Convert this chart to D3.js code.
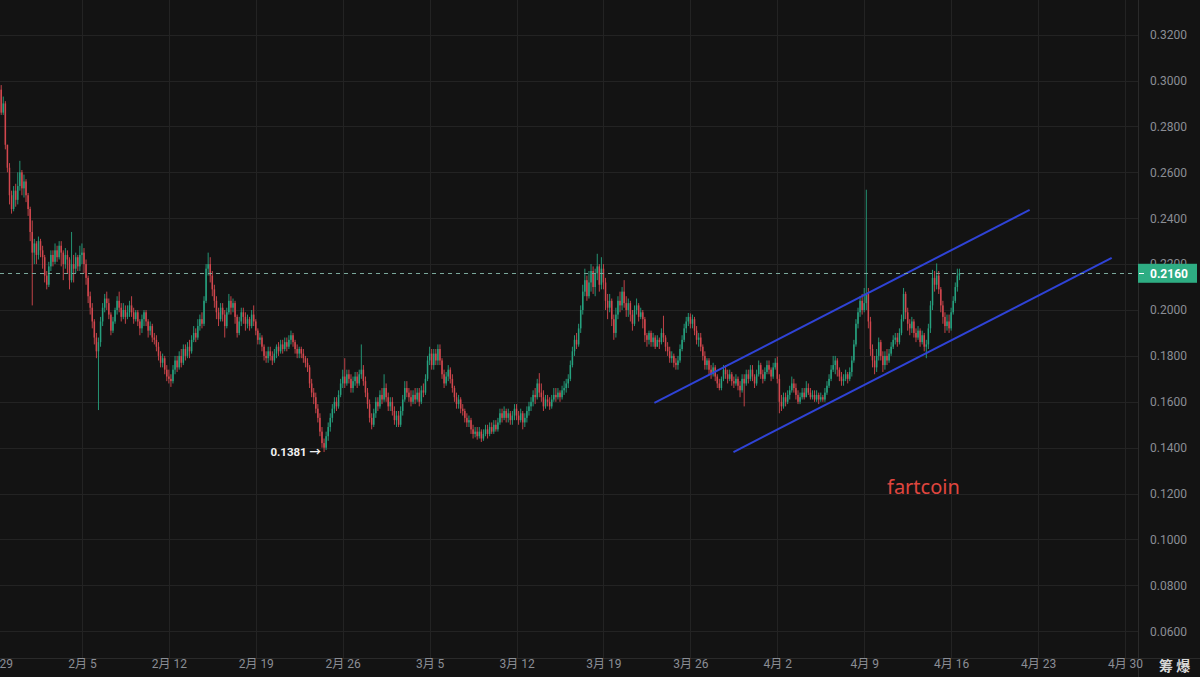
<!DOCTYPE html>
<html>
<head>
<meta charset="utf-8">
<script src="https://cdn.jsdelivr.net/npm/d3@7"></script>
<style>
  html, body { margin: 0; padding: 0; background: #131313; }
  svg { display: block; }
</style>
</head>
<body>
<svg id="chart" width="1200" height="677"></svg>
<script>
// 4h candles starting 2025-01-29 08:00, prices in units of 0.0001
const firstOpen = 3005;
const closes = [
  2960,2860,2900,2720,
  2620,2500,2440,2520,2480,2540,
  2600,2530,2560,2500,2440,2340,
  2250,2290,2240,2300,2260,2230,
  2150,2110,2190,2240,2210,2260,
  2230,2280,2250,2200,2240,2220,
  2130,2200,2180,2230,2190,2240,
  2250,2200,2140,2060,2010,1950,
  1880,1820,1860,1950,2010,2050,
  2030,1980,1910,1950,2000,2040,
  2010,1970,2000,1970,1990,2020,
  1990,1960,1990,1950,1920,1960,
  1990,1950,1910,1930,1880,1870,
  1840,1800,1770,1790,1740,1710,
  1700,1690,1740,1780,1750,1800,
  1770,1830,1800,1840,1820,1870,
  1900,1880,1930,1960,1940,2040,
  2180,2200,2150,2090,2040,1990,
  1960,2010,1980,1930,1990,2040,
  2010,2030,1970,1900,1950,1990,
  1970,1940,1960,1930,1980,1950,
  1910,1870,1880,1840,1800,1790,
  1820,1800,1780,1810,1840,1820,
  1850,1830,1860,1840,1870,1890,
  1860,1830,1810,1830,1810,1790,
  1770,1750,1680,1640,1620,1570,
  1530,1470,1420,1400,1450,1490,
  1530,1570,1600,1580,1630,1680,
  1710,1680,1720,1700,1660,1690,
  1710,1680,1720,1740,1690,1640,
  1590,1530,1500,1550,1600,1580,
  1630,1610,1660,1620,1580,1600,
  1560,1520,1540,1500,1560,1610,
  1660,1640,1620,1600,1630,1610,
  1640,1600,1650,1640,1700,1780,
  1810,1760,1810,1780,1830,1780,
  1720,1680,1710,1740,1700,1660,
  1620,1590,1610,1570,1560,1530,
  1510,1520,1480,1460,1470,1450,
  1470,1440,1460,1480,1460,1490,
  1470,1500,1480,1510,1550,1530,
  1560,1530,1550,1520,1540,1570,
  1540,1520,1550,1510,1530,1560,
  1580,1600,1630,1620,1680,1640,
  1620,1580,1610,1600,1580,1610,
  1630,1620,1640,1620,1650,1660,
  1680,1700,1760,1820,1870,1850,
  1920,2000,2080,2130,2060,2120,
  2170,2100,2160,2190,2110,2180,
  2120,2040,2010,2040,1960,1900,
  1980,2040,2020,2080,2030,2000,
  2030,1980,1940,2000,2020,1970,
  1990,1960,1890,1870,1900,1860,
  1880,1840,1870,1860,1900,1880,
  1840,1820,1790,1800,1770,1760,
  1780,1830,1870,1920,1950,1970,
  1940,1960,1910,1870,1880,1840,
  1800,1760,1780,1740,1720,1750,
  1710,1680,1660,1700,1740,1720,
  1700,1720,1690,1680,1700,1670,
  1650,1700,1680,1720,1700,1740,
  1710,1680,1720,1760,1720,1700,
  1730,1760,1740,1710,1750,1770,
  1700,1600,1580,1620,1600,1630,
  1650,1680,1660,1630,1600,1620,
  1640,1620,1660,1640,1620,1630,
  1610,1630,1610,1620,1610,1640,
  1670,1700,1740,1760,1780,1740,
  1710,1690,1700,1720,1700,1730,
  1780,1850,1940,1990,2040,2000,
  2030,2070,1950,1830,1780,1750,
  1800,1860,1800,1760,1800,1780,
  1810,1840,1870,1880,1860,1900,
  1960,2070,1990,1940,1920,1950,
  1900,1880,1910,1860,1890,1840,
  1850,1920,2020,2140,2110,2150,
  2090,2020,1970,1930,1950,1920,
  1990,2040,2100,2150,2160
];
const highs = [
  3020,2980,2930,2910,
  2720,2640,2520,2540,2550,2600,
  2650,2610,2590,2570,2510,2450,
  2390,2310,2300,2320,2310,2280,
  2240,2170,2210,2260,2260,2290,
  2280,2300,2300,2260,2270,2260,
  2230,2340,2240,2250,2240,2280,
  2290,2270,2220,2150,2080,2030,
  1960,1900,1880,1970,2030,2070,
  2080,2050,1990,1970,2010,2060,
  2080,2030,2030,2020,2020,2040,
  2060,2010,2000,2000,1960,1980,
  2000,2000,1960,1950,1940,1900,
  1890,1860,1820,1810,1800,1760,
  1740,1720,1760,1800,1800,1820,
  1830,1850,1850,1860,1870,1890,
  1930,1920,1960,1980,1990,2060,
  2200,2250,2230,2170,2110,2060,
  2010,2030,2030,2000,2010,2070,
  2060,2050,2040,1980,1970,2010,
  2010,1990,1980,1970,2000,2020,
  1960,1920,1900,1890,1850,1820,
  1840,1840,1820,1830,1850,1860,
  1870,1870,1880,1880,1890,1910,
  1900,1870,1850,1840,1840,1830,
  1800,1790,1760,1700,1660,1640,
  1590,1550,1490,1440,1470,1510,
  1550,1590,1620,1620,1650,1700,
  1740,1790,1740,1740,1720,1710,
  1730,1730,1740,1850,1760,1710,
  1660,1610,1550,1570,1620,1620,
  1650,1660,1720,1680,1640,1620,
  1620,1580,1560,1560,1580,1630,
  1690,1690,1660,1650,1650,1660,
  1660,1660,1670,1680,1720,1800,
  1840,1830,1830,1830,1850,1850,
  1790,1740,1730,1760,1750,1720,
  1670,1640,1630,1620,1590,1570,
  1550,1540,1530,1500,1490,1490,
  1490,1480,1480,1500,1500,1510,
  1510,1520,1520,1530,1570,1570,
  1580,1570,1570,1560,1560,1590,
  1590,1560,1570,1560,1550,1580,
  1600,1620,1650,1660,1700,1725,
  1680,1650,1630,1630,1620,1630,
  1660,1660,1660,1650,1670,1690,
  1700,1720,1780,1840,1890,1900,
  1940,2020,2110,2180,2150,2170,
  2200,2190,2180,2245,2200,2230,
  2200,2140,2070,2070,2050,1980,
  2010,2060,2080,2100,2130,2060,
  2050,2040,2000,2020,2050,2030,
  2010,2000,1970,1900,1910,1910,
  1900,1890,1890,1880,1920,1975,
  1890,1860,1840,1820,1810,1790,
  1800,1850,1890,1940,1970,1987,
  1985,1980,1970,1930,1900,1900,
  1850,1820,1790,1790,1760,1770,
  1760,1720,1700,1710,1760,1760,
  1740,1740,1730,1710,1720,1710,
  1690,1720,1720,1740,1740,1760,
  1760,1720,1740,1780,1770,1740,
  1750,1780,1780,1750,1770,1790,
  1797,1720,1630,1640,1640,1650,
  1670,1710,1700,1680,1650,1640,
  1660,1660,1690,1680,1660,1650,
  1650,1650,1640,1640,1630,1660,
  1690,1720,1760,1800,1800,1790,
  1750,1730,1720,1740,1730,1750,
  1800,1870,1960,2010,2060,2070,
  2096,2524,2096,1970,1850,1800,
  1830,1880,1870,1820,1820,1830,
  1830,1860,1890,1900,1900,1920,
  1980,2096,2080,2010,1960,1970,
  1960,1920,1930,1920,1910,1900,
  1870,1940,2040,2175,2170,2203,
  2170,2100,2040,1990,1980,1980,
  2010,2060,2120,2180,2180
];
const lows = [
  2940,2850,2850,2700,
  2600,2460,2420,2430,2450,2460,
  2520,2500,2490,2470,2410,2300,
  2020,2200,2200,2220,2230,2180,
  2120,2090,2100,2170,2190,2200,
  2210,2220,2190,2130,2180,2160,
  2090,2120,2120,2160,2170,2170,
  2200,2160,2110,2030,1980,1920,
  1850,1790,1564,1840,1930,1990,
  2000,1960,1890,1900,1940,1980,
  1990,1950,1960,1940,1960,1970,
  1970,1940,1950,1930,1890,1900,
  1930,1930,1880,1890,1860,1850,
  1820,1780,1750,1750,1720,1690,
  1680,1665,1680,1720,1730,1740,
  1750,1760,1780,1790,1790,1810,
  1860,1860,1870,1910,1920,1930,
  2030,2150,2120,2060,2010,1960,
  1930,1950,1950,1880,1920,1980,
  1980,1990,1940,1880,1890,1930,
  1940,1910,1920,1910,1920,1930,
  1890,1850,1850,1820,1780,1770,
  1770,1780,1760,1770,1790,1800,
  1810,1810,1820,1820,1830,1850,
  1840,1810,1790,1790,1790,1770,
  1750,1730,1660,1620,1590,1550,
  1510,1450,1400,1381,1390,1430,
  1470,1510,1550,1560,1570,1620,
  1660,1660,1670,1680,1640,1640,
  1670,1660,1670,1700,1670,1620,
  1570,1510,1480,1490,1530,1560,
  1570,1590,1600,1600,1560,1560,
  1540,1500,1490,1490,1490,1540,
  1600,1620,1600,1580,1590,1590,
  1600,1580,1590,1620,1630,1690,
  1760,1740,1740,1760,1760,1760,
  1700,1660,1670,1690,1680,1640,
  1600,1570,1570,1550,1540,1510,
  1490,1490,1460,1440,1445,1435,
  1440,1425,1430,1450,1440,1450,
  1460,1460,1470,1470,1500,1510,
  1520,1510,1510,1500,1500,1520,
  1520,1500,1510,1480,1490,1510,
  1540,1560,1580,1590,1610,1620,
  1600,1560,1570,1580,1565,1570,
  1600,1600,1610,1600,1610,1630,
  1640,1660,1690,1750,1800,1830,
  1840,1900,1980,2060,2040,2050,
  2080,2070,2060,2130,2080,2090,
  2090,2000,1960,1990,1930,1870,
  1880,1960,1990,2000,2010,1970,
  1970,1950,1910,1930,1980,1950,
  1960,1920,1860,1840,1850,1840,
  1840,1830,1840,1830,1850,1860,
  1820,1800,1770,1770,1750,1740,
  1740,1770,1820,1860,1900,1930,
  1920,1920,1890,1850,1840,1820,
  1780,1740,1740,1720,1700,1710,
  1690,1660,1650,1650,1690,1700,
  1680,1690,1670,1660,1670,1650,
  1620,1640,1580,1670,1680,1690,
  1690,1660,1670,1710,1700,1680,
  1690,1720,1720,1690,1700,1740,
  1680,1550,1560,1570,1580,1590,
  1610,1640,1640,1610,1590,1590,
  1610,1610,1620,1630,1610,1610,
  1600,1600,1590,1600,1600,1600,
  1630,1660,1690,1730,1720,1710,
  1690,1670,1670,1690,1680,1690,
  1710,1770,1840,1920,1970,1980,
  1990,2000,1920,1800,1750,1720,
  1730,1780,1780,1730,1740,1760,
  1770,1800,1830,1850,1840,1850,
  1890,1950,1960,1910,1890,1900,
  1880,1860,1870,1840,1850,1820,
  1790,1830,1900,2000,2080,2090,
  2070,1990,1940,1900,1910,1900,
  1910,1980,2030,2080,2130
];

const yTicks = [0.06, 0.08, 0.10, 0.12, 0.14, 0.16, 0.18, 0.20, 0.22, 0.24, 0.26, 0.28, 0.30, 0.32];
const lastPrice = 0.2160;
const lowMark = { t: new Date(Date.UTC(2025, 1, 24, 12)), v: 0.1381 };
const channelUpper = [
  { t: new Date(Date.UTC(2025, 2, 23, 2, 24)), v: 0.1595 },
  { t: new Date(Date.UTC(2025, 3, 22, 7, 40)), v: 0.2436 }
];
const channelLower = [
  { t: new Date(Date.UTC(2025, 2, 29, 11, 17)), v: 0.1381 },
  { t: new Date(Date.UTC(2025, 3, 28, 22, 20)), v: 0.2227 }
];

const W = 1200, H = 677;
const plotRight = 1138, plotBottom = 658;
const up = "#26a17f", down = "#d2474e";
const font = "Roboto, 'Noto Sans CJK SC', sans-serif";

const start = Date.UTC(2025, 0, 29, 8);
const step = 4 * 3600 * 1000;
const n = Math.min(closes.length, highs.length, lows.length);
const candles = [];
for (let i = 0; i < n; i++) {
  const o = (i === 0 ? firstOpen : closes[i - 1]) / 10000;
  const c = closes[i] / 10000;
  candles.push({
    t: new Date(start + i * step),
    o: o, c: c,
    h: Math.max(highs[i] / 10000, o, c),
    l: Math.min(lows[i] / 10000, o, c)
  });
}

const x = d3.scaleUtc()
  .domain([new Date(Date.UTC(2025, 0, 29)), new Date(Date.UTC(2025, 3, 30))])
  .range([-5, 1125]);
const y = d3.scaleLinear().domain([0.06, 0.32]).range([631.3, 34.6]);

const svg = d3.select("#chart");
svg.append("rect").attr("width", W).attr("height", H).attr("fill", "#131313");

const clip = svg.append("defs").append("clipPath").attr("id", "plot");
clip.append("rect").attr("x", 0).attr("y", 0).attr("width", plotRight).attr("height", plotBottom);

const xTicks = d3.utcWednesday.every(1).range(
  new Date(Date.UTC(2025, 0, 29)), new Date(Date.UTC(2025, 4, 1)));

// grid
const grid = svg.append("g").attr("stroke", "#232323").attr("stroke-width", 1);
grid.selectAll(".h").data(yTicks).join("line")
  .attr("x1", 0).attr("x2", plotRight)
  .attr("y1", d => Math.round(y(d)) + 0.5).attr("y2", d => Math.round(y(d)) + 0.5);
grid.selectAll(".v").data(xTicks).join("line")
  .attr("y1", 0).attr("y2", plotBottom)
  .attr("x1", d => Math.round(x(d)) + 0.5).attr("x2", d => Math.round(x(d)) + 0.5);

svg.append("line").attr("x1", plotRight + 0.5).attr("x2", plotRight + 0.5)
  .attr("y1", 0).attr("y2", H).attr("stroke", "#2a2a2a");
svg.append("line").attr("x1", 0).attr("x2", W)
  .attr("y1", plotBottom + 0.5).attr("y2", plotBottom + 0.5).attr("stroke", "#2a2a2a");

// candles
const plot = svg.append("g").attr("clip-path", "url(#plot)");
const bw = 1.5;
const cg = plot.selectAll("g.c").data(candles).join("g")
  .attr("transform", d => `translate(${x(d.t)},0)`);
cg.append("line")
  .attr("y1", d => y(d.h)).attr("y2", d => y(d.l))
  .attr("stroke", d => d.c >= d.o ? up : down)
  .attr("stroke-width", 0.9);
cg.append("rect")
  .attr("x", -bw / 2).attr("width", bw)
  .attr("y", d => y(Math.max(d.o, d.c)))
  .attr("height", d => Math.max(1, Math.abs(y(d.o) - y(d.c))))
  .attr("fill", d => d.c >= d.o ? up : down);

// channel lines
const line = d3.line().x(d => x(d.t)).y(d => y(d.v));
[channelUpper, channelLower].forEach(pts => {
  plot.append("path").attr("d", line(pts))
    .attr("fill", "none").attr("stroke", "#2f43d6").attr("stroke-width", 2);
});

// last price dashed line
svg.append("line")
  .attr("x1", 0).attr("x2", plotRight - 4)
  .attr("y1", Math.round(y(lastPrice)) + 0.5).attr("y2", Math.round(y(lastPrice)) + 0.5)
  .attr("stroke", "#7aa89b").attr("stroke-width", 1).attr("stroke-dasharray", "4,4");

// low annotation
svg.append("text")
  .attr("x", x(lowMark.t) - 3).attr("y", y(lowMark.v) + 4)
  .attr("text-anchor", "end")
  .attr("font-family", font).attr("font-size", 11.5).attr("font-weight", "bold")
  .attr("fill", "#f0f0f0")
  .text(`${lowMark.v.toFixed(4)} →`);

// label text
svg.append("text")
  .attr("x", 887).attr("y", 494)
  .attr("font-family", "'Noto Sans', 'Noto Sans CJK SC', sans-serif").attr("font-size", 20)
  .attr("fill", "#e0463f")
  .text("fartcoin");

// y axis
const yAxis = d3.axisRight(y).tickValues(yTicks).tickSize(0).tickPadding(0)
  .tickFormat(d => d.toFixed(4));
svg.append("g").attr("transform", "translate(1150,0)").call(yAxis)
  .call(g => g.select(".domain").remove())
  .call(g => g.selectAll("text").attr("fill", "#8b8e95")
    .attr("font-family", font).attr("font-size", 12));

// x axis
const xAxis = d3.axisBottom(x).tickValues(xTicks).tickSize(0).tickPadding(0)
  .tickFormat(d => `${d.getUTCMonth() + 1}月 ${d.getUTCDate()}`);
svg.append("g").attr("transform", "translate(0,657)").call(xAxis)
  .call(g => g.select(".domain").remove())
  .call(g => g.selectAll("text").attr("fill", "#8b8e95")
    .attr("font-family", font).attr("font-size", 12).attr("dy", "0.95em"));

// corner label
svg.append("text").attr("x", 1159).attr("y", 671)
  .attr("font-family", "'Noto Sans CJK SC', sans-serif").attr("font-size", 14)
  .attr("font-weight", "bold").attr("fill", "#d8d8d8")
  .text("筹 爆");

// last price tag
const py = y(lastPrice);
svg.append("rect").attr("x", plotRight).attr("y", py - 9.5).attr("width", 59).attr("height", 19)
  .attr("fill", "#2ead83");
svg.append("line").attr("x1", plotRight + 1).attr("x2", plotRight + 6)
  .attr("y1", Math.round(py) + 0.5).attr("y2", Math.round(py) + 0.5).attr("stroke", "#ffffff");
svg.append("text").attr("x", 1150).attr("y", py + 4.5)
  .attr("font-family", font).attr("font-size", 12).attr("font-weight", "bold")
  .attr("fill", "#ffffff")
  .text(lastPrice.toFixed(4));
</script>
</body>
</html>
